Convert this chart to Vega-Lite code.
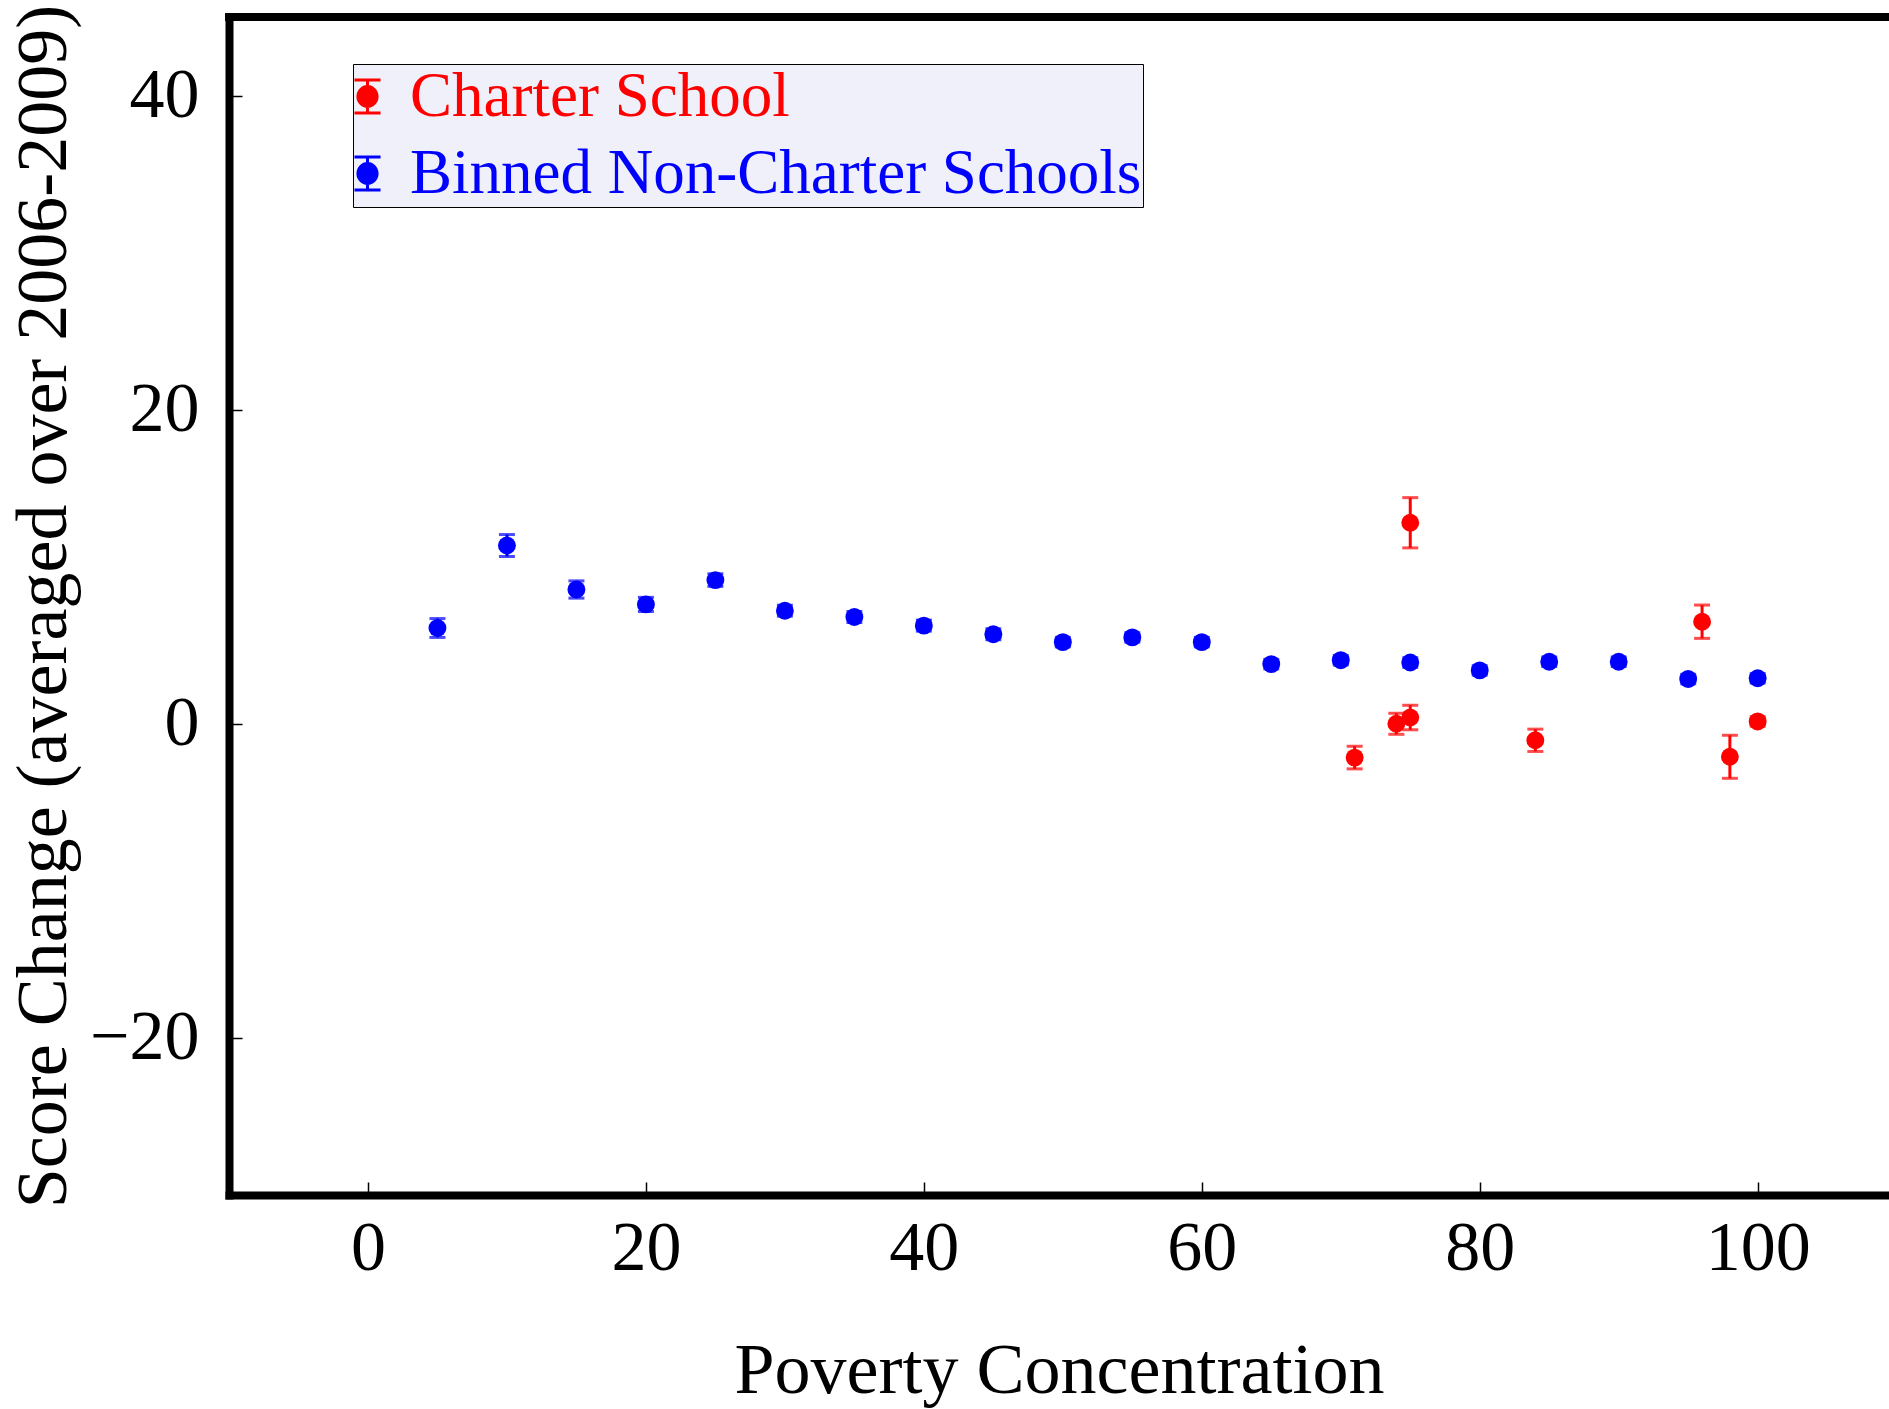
{
  "$schema": "https://vega.github.io/schema/vega-lite/v6.json",
  "width": 1660,
  "height": 1178,
  "autosize": {"type": "none"},
  "padding": {"left": 229, "top": 17, "right": 0, "bottom": 214},
  "background": "white",
  "config": {
    "view": {"stroke": null},
    "font": "Liberation Serif",
    "axis": {
      "grid": false,
      "domainColor": "black",
      "domainWidth": 8,
      "domainCap": "square",
      "tickColor": "black",
      "tickWidth": 1.5,
      "tickSize": -13,
      "labelFont": "Liberation Serif",
      "labelFontSize": 70,
      "labelColor": "black",
      "titleFont": "Liberation Serif",
      "titleFontSize": 72,
      "titleFontWeight": "normal",
      "titleColor": "black"
    },
    "legend": {
      "orient": "none",
      "legendX": 124,
      "legendY": 47,
      "fillColor": "#f0f0fa",
      "strokeColor": "black",
      "padding": 1,
      "rowPadding": 13,
      "labelFont": "Liberation Serif",
      "labelFontSize": 63,
      "labelOffset": 11,
      "symbolOffset": -18,
      "labelLimit": 2000,
      "symbolSize": 1089,
      "symbolStrokeWidth": 3,
      "symbolOpacity": 1
    }
  },
  "data": {
    "values": [
      {"group": "Binned Non-Charter Schools", "x": 5, "y": 6.1, "err": 0.6},
      {"group": "Binned Non-Charter Schools", "x": 10, "y": 11.35, "err": 0.7},
      {"group": "Binned Non-Charter Schools", "x": 15, "y": 8.55, "err": 0.55},
      {"group": "Binned Non-Charter Schools", "x": 20, "y": 7.6, "err": 0.45},
      {"group": "Binned Non-Charter Schools", "x": 25, "y": 9.15, "err": 0.4},
      {"group": "Binned Non-Charter Schools", "x": 30, "y": 7.2, "err": 0.35},
      {"group": "Binned Non-Charter Schools", "x": 35, "y": 6.8, "err": 0.35},
      {"group": "Binned Non-Charter Schools", "x": 40, "y": 6.25, "err": 0.35},
      {"group": "Binned Non-Charter Schools", "x": 45, "y": 5.7, "err": 0.35},
      {"group": "Binned Non-Charter Schools", "x": 50, "y": 5.2, "err": 0.3},
      {"group": "Binned Non-Charter Schools", "x": 55, "y": 5.5, "err": 0.3},
      {"group": "Binned Non-Charter Schools", "x": 60, "y": 5.2, "err": 0.3},
      {"group": "Binned Non-Charter Schools", "x": 65, "y": 3.8, "err": 0.3},
      {"group": "Binned Non-Charter Schools", "x": 70, "y": 4.05, "err": 0.3},
      {"group": "Binned Non-Charter Schools", "x": 75, "y": 3.9, "err": 0.3},
      {"group": "Binned Non-Charter Schools", "x": 80, "y": 3.4, "err": 0.3},
      {"group": "Binned Non-Charter Schools", "x": 85, "y": 3.95, "err": 0.3},
      {"group": "Binned Non-Charter Schools", "x": 90, "y": 3.95, "err": 0.3},
      {"group": "Binned Non-Charter Schools", "x": 95, "y": 2.85, "err": 0.3},
      {"group": "Binned Non-Charter Schools", "x": 100, "y": 2.9, "err": 0.3},
      {"group": "Charter School", "x": 71, "y": -2.15, "err": 0.72},
      {"group": "Charter School", "x": 74, "y": 0.0, "err": 0.67},
      {"group": "Charter School", "x": 75, "y": 0.4, "err": 0.78},
      {"group": "Charter School", "x": 75, "y": 12.8, "err": 1.6},
      {"group": "Charter School", "x": 84, "y": -1.05, "err": 0.71},
      {"group": "Charter School", "x": 96, "y": 6.5, "err": 1.06},
      {"group": "Charter School", "x": 98, "y": -2.1, "err": 1.37},
      {"group": "Charter School", "x": 100, "y": 0.15, "err": 0.3}
    ]
  },
  "layer": [
    {
      "mark": {
        "type": "errorbar",
        "ticks": {"size": 16, "thickness": 3},
        "rule": {"strokeWidth": 3}
      },
      "encoding": {
        "x": {
          "field": "x", "type": "quantitative",
          "scale": {"domain": [-10, 109.45], "nice": false, "zero": false},
          "axis": {"title": "Poverty Concentration", "values": [0, 20, 40, 60, 80, 100], "labelPadding": 32, "titlePadding": 52}
        },
        "y": {
          "field": "y", "type": "quantitative",
          "scale": {"domain": [-30, 45], "nice": false, "zero": false},
          "axis": {"title": "Score Change (averaged over 2006-2009)", "values": [-20, 0, 20, 40], "labelPadding": 43, "titlePadding": 9}
        },
        "yError": {"field": "err"},
        "color": {
          "field": "group", "type": "nominal",
          "scale": {"domain": ["Charter School", "Binned Non-Charter Schools"], "range": ["#ff0000", "#0000ff"]},
          "legend": {
            "title": null,
            "labelExpr": "datum.label + '\u2002'",
            "labelColor": {"expr": "datum.value == 'Charter School' ? '#ff0000' : '#0000ff'"},
            "symbolType": "M-0.79,-1H0.79M0,-1V1M-0.79,1H0.79M0.58,0A0.58,0.6,0,1,1,-0.58,0A0.58,0.6,0,1,1,0.58,0Z",
            "encode": {
              "symbols": {"update": {"stroke": {"scale": "color", "field": "value"}, "fill": {"scale": "color", "field": "value"}, "opacity": {"value": 1}, "size": {"value": 1089}, "strokeWidth": {"value": 3}}}
            }
          }
        }
      }
    },
    {
      "mark": {"type": "point", "shape": "circle", "filled": true, "size": 320, "opacity": 1, "strokeWidth": 0},
      "encoding": {
        "x": {
          "field": "x", "type": "quantitative",
          "scale": {"domain": [-10, 109.45], "nice": false, "zero": false},
          "axis": {"title": "Poverty Concentration", "values": [0, 20, 40, 60, 80, 100], "labelPadding": 32, "titlePadding": 52}
        },
        "y": {
          "field": "y", "type": "quantitative",
          "scale": {"domain": [-30, 45], "nice": false, "zero": false},
          "axis": {"title": "Score Change (averaged over 2006-2009)", "values": [-20, 0, 20, 40], "labelPadding": 43, "titlePadding": 9}
        },
        "color": {
          "field": "group", "type": "nominal",
          "scale": {"domain": ["Charter School", "Binned Non-Charter Schools"], "range": ["#ff0000", "#0000ff"]},
          "legend": {
            "title": null,
            "labelExpr": "datum.label + '\u2002'",
            "labelColor": {"expr": "datum.value == 'Charter School' ? '#ff0000' : '#0000ff'"},
            "symbolType": "M-0.79,-1H0.79M0,-1V1M-0.79,1H0.79M0.58,0A0.58,0.6,0,1,1,-0.58,0A0.58,0.6,0,1,1,0.58,0Z",
            "encode": {
              "symbols": {"update": {"stroke": {"scale": "color", "field": "value"}, "fill": {"scale": "color", "field": "value"}, "opacity": {"value": 1}, "size": {"value": 1089}, "strokeWidth": {"value": 3}}}
            }
          }
        }
      }
    },
    {
      "data": {"values": [{}]},
      "mark": {"type": "rule", "color": "black", "strokeWidth": 8, "strokeCap": "square"},
      "encoding": {
        "y": {"datum": 45, "type": "quantitative"}
      }
    }
  ]
}
